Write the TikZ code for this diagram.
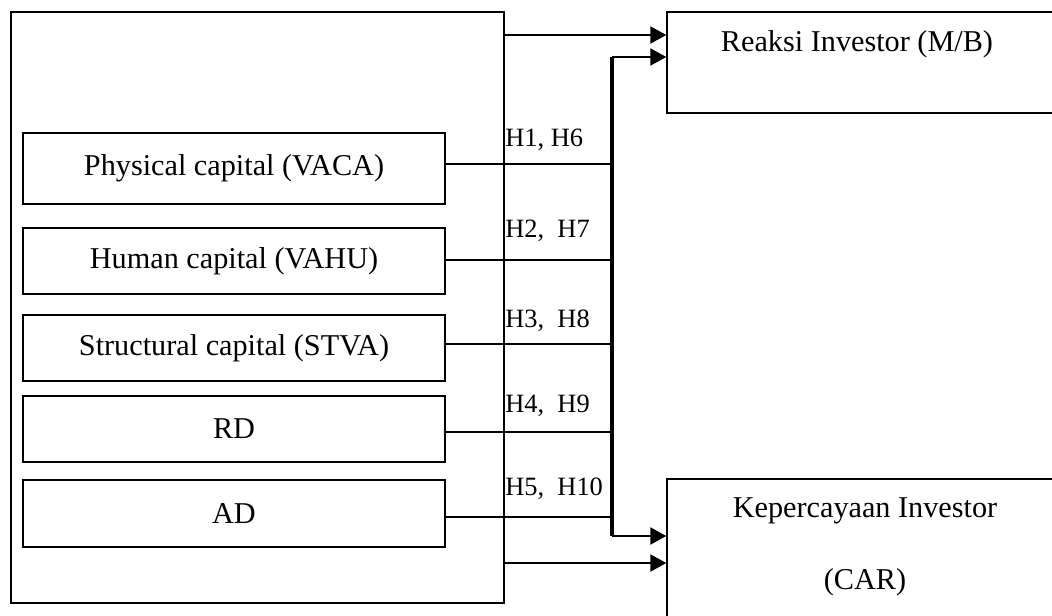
\documentclass[tikz,border=0pt]{standalone}
\usepackage{fontspec}
\setmainfont{Liberation Serif}
\usetikzlibrary{arrows.meta}

\begin{document}
\begin{tikzpicture}[x=0.025cm,y=-0.025cm]

\tikzstyle{box}=[draw,line width=0.9pt,shape=rectangle,inner sep=0pt,anchor=center];
\tikzstyle{var}=[box,minimum width=10.55cm,minimum height=1.65cm,font=\fontsize{21.5}{26}\selectfont];
\tikzstyle{txt}=[inner sep=0pt,font=\fontsize{21.5}{51}\selectfont,align=center];
\tikzstyle{hyp}=[anchor=base west,inner sep=0pt,font=\fontsize{18.8}{22}\selectfont];
\tikzstyle{link}=[line width=1.9pt];
\tikzstyle{arr}=[line width=1.9pt,-{Triangle[length=0.4cm,width=0.42cm]}];

\clip (0,0) rectangle (1052,616);

% Outer frame and the independent variables
\node[box,line width=1.2pt,minimum width=12.325cm,minimum height=14.775cm] (ic) at (257.5,307.5) {};
\node[var,minimum height=1.775cm] (phys) at (234,168.5) {Physical capital (VACA)};
\node[var] (hum) at (234,261) {Human capital (VAHU)};
\node[var] (str) at (234,348) {Structural capital (STVA)};
\node[var] (rd) at (234,429) {RD};
\node[var,minimum height=1.675cm] (ad) at (234,513.5) {AD};

% Dependent variables
\node[box,minimum width=9.825cm,minimum height=2.525cm] (mb) at (863.5,62.5) {};
\node[txt,anchor=base] (mbtext) at (857,52) {Reaksi Investor (M/B)};
\node[box,minimum width=9.825cm,minimum height=4.025cm] (kc) at (863.5,559.5) {};
\node[txt] (kctext) at (865,547) {Kepercayaan Investor\\(CAR)};

% Bus line between both sides
\coordinate (bustop) at (612,57);
\coordinate (busbot) at (612,536);
\coordinate (intop) at (504,35);
\coordinate (inbot) at (504,563);

% Where each link leaves its box
\coordinate (pe) at ([yshift=0.1125cm]phys.east);
\coordinate (he) at ([yshift=0.025cm]hum.east);
\coordinate (se) at ([yshift=0.1cm]str.east);
\coordinate (re) at ([yshift=-0.075cm]rd.east);
\coordinate (ae) at ([yshift=-0.0875cm]ad.east);

\draw[line width=2.6pt] (bustop) -- (busbot);
\draw[link] (pe) -- (pe -| bustop)
(he) -- (he -| bustop)
(se) -- (se -| bustop)
(re) -- (re -| bustop)
(ae) -- (ae -| bustop);

\draw[arr] (bustop) -- (bustop -| mb.west);
\draw[arr] (busbot) -- (busbot -| kc.west);
\draw[arr] (intop) -- (intop -| mb.west);
\draw[arr] (inbot) -- (inbot -| kc.west);

% Hypothesis labels
\node[hyp] (h1) at (505,147) {H1, H6};
\node[hyp] (h2) at (505,238) {H2,~~H7};
\node[hyp] (h3) at (505,328) {H3,~~H8};
\node[hyp] (h4) at (505,412) {H4,~~H9};
\node[hyp] (h5) at (505,495) {H5,~~H10};

\end{tikzpicture}
\end{document}
